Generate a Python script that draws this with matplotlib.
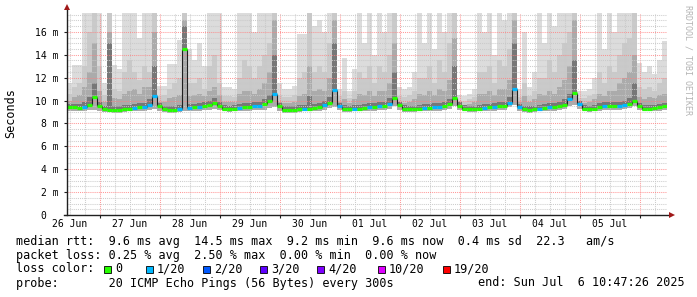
import matplotlib
matplotlib.use('Agg')
import matplotlib.pyplot as plt
from matplotlib.patches import Rectangle

MONO = 'DejaVu Sans Mono'
W, H = 697, 297

# 10 days of 2 hour steps, starting Jun 26 10:47
start_h = 10 + 47 / 60
step_h = 2
days = ['26 Jun', '27 Jun', '28 Jun', '29 Jun', '30 Jun',
        '01 Jul', '02 Jul', '03 Jul', '04 Jul', '05 Jul']

# median rtt (ms) per step
med = [9.40, 9.40, 9.35, 9.45, 9.65, 10.3, 9.55, 9.25, 9.20, 9.20, 9.20, 9.25,
       9.30, 9.35, 9.40, 9.45, 9.65, 10.4, 9.50, 9.25, 9.20, 9.20, 9.30, 14.5,
       9.35, 9.40, 9.45, 9.50, 9.60, 9.75, 9.55, 9.30, 9.25, 9.30, 9.35, 9.40,
       9.45, 9.50, 9.55, 9.70, 10.0, 10.6, 9.50, 9.20, 9.20, 9.20, 9.25, 9.30,
       9.30, 9.35, 9.45, 9.60, 9.80, 10.9, 9.50, 9.30, 9.25, 9.30, 9.30, 9.35,
       9.40, 9.45, 9.50, 9.55, 9.70, 10.2, 9.60, 9.30, 9.25, 9.25, 9.30, 9.35,
       9.35, 9.40, 9.45, 9.55, 9.70, 10.2, 9.55, 9.30, 9.25, 9.25, 9.30, 9.35,
       9.40, 9.45, 9.50, 9.55, 9.80, 11.0, 9.40, 9.25, 9.20, 9.25, 9.30, 9.35,
       9.40, 9.45, 9.50, 9.65, 10.1, 10.7, 9.70, 9.30, 9.25, 9.30, 9.40, 9.55,
       9.50, 9.50, 9.55, 9.60, 9.70, 10.0, 9.50, 9.30, 9.30, 9.35, 9.40, 9.50]

# lost pings (of 20) per step
loss = [0, 0, 0, 1, 0, 0, 0, 0, 0, 0, 0, 0,
        0, 1, 0, 1, 1, 1, 0, 0, 0, 0, 1, 0,
        1, 0, 1, 0, 0, 0, 0, 0, 0, 0, 1, 0,
        0, 1, 1, 0, 0, 1, 0, 0, 0, 0, 0, 1,
        0, 0, 0, 1, 0, 1, 1, 0, 0, 1, 0, 0,
        1, 0, 1, 0, 1, 0, 0, 0, 0, 0, 0, 1,
        0, 1, 1, 0, 0, 0, 0, 0, 0, 0, 0, 1,
        0, 1, 0, 0, 1, 1, 1, 0, 0, 0, 1, 0,
        1, 0, 0, 0, 1, 0, 1, 0, 0, 0, 0, 1,
        0, 0, 1, 1, 0, 0, 0, 0, 0, 0, 0, 0]

# smoke: sorted ping ranks per step (ms)
top = [11.5, 13.1, 13.1, 18, 18, 18, 18, 11.5, 18, 13.1, 12.8, 18,
       18, 18, 15.5, 18, 18, 18, 11.3, 11.3, 13.2, 13.2, 15.3, 18,
       14.5, 13.5, 15.0, 13.0, 18, 18, 18, 11.2, 11.2, 11.0, 18, 18,
       18, 16, 18, 18, 18, 18, 11.5, 11.0, 11.0, 11.3, 15.8, 15.8,
       18, 16.5, 17, 16, 18, 18, 11.0, 13.7, 10.8, 12.8, 18, 15,
       18, 14, 18, 16, 18, 18, 11.2, 11.0, 11.2, 12.5, 18, 15,
       18, 14.5, 18, 16, 18, 18, 10.5, 10.4, 10.6, 11.0, 18, 16,
       18, 14, 18, 17, 18, 18, 11.0, 16, 11.2, 12.5, 18, 15,
       18, 16.5, 18, 18, 18, 18, 10.8, 10.8, 11.0, 12.0, 18, 14.5,
       18, 16, 18, 18, 18, 18, 13.3, 12.5, 13.0, 12.3, 13.5, 15.2]
u2 = [10.6, 11.2, 11.5, 13.0, 16.0, 18, 13.0, 10.5, 18, 11.0, 10.8, 12.5,
      13.5, 12.5, 11.8, 13.0, 12.5, 18, 10.4, 10.5, 11.0, 11.5, 12.0, 18,
      11.5, 11.5, 12.0, 11.0, 13.0, 14.0, 11.5, 10.4, 10.4, 10.3, 12.0, 13.5,
      13.0, 12.0, 13.0, 14.0, 15.0, 18, 10.5, 10.3, 10.3, 10.5, 12.0, 12.5,
      18, 12.5, 13.0, 12.5, 15.0, 18, 10.4, 10.8, 10.2, 10.8, 12.5, 12.0,
      13.0, 11.5, 13.0, 12.5, 14.0, 18, 10.4, 10.3, 10.5, 10.8, 12.0, 12.0,
      13.0, 11.5, 13.5, 12.5, 15.0, 18, 10.0, 9.9, 10.1, 10.3, 12.5, 12.5,
      13.0, 11.5, 13.5, 13.0, 14.5, 18, 10.3, 11.5, 10.4, 10.8, 12.0, 12.0,
      13.5, 12.5, 14.0, 15.0, 16.0, 18, 10.2, 10.2, 10.4, 10.6, 12.5, 11.5,
      13.0, 12.5, 14.0, 15.0, 15.5, 18, 11.2, 11.0, 11.2, 10.8, 11.5, 12.0]
u4 = [10.0, 10.3, 10.5, 11.2, 12.5, 15.0, 10.8, 9.9, 16.0, 10.2, 10.1, 10.6,
      10.8, 11.0, 10.6, 11.2, 11.2, 16.0, 9.9, 9.9, 10.2, 10.3, 10.5, 17.0,
      10.4, 10.5, 10.6, 10.4, 10.8, 11.2, 10.5, 9.9, 9.9, 9.9, 10.6, 10.8,
      10.8, 10.6, 11.0, 11.5, 12.5, 17.0, 9.9, 9.8, 9.8, 9.9, 10.4, 10.6,
      13.0, 10.8, 11.0, 10.8, 12.0, 17.0, 9.9, 10.1, 9.8, 10.1, 10.6, 10.5,
      10.8, 10.4, 10.8, 10.8, 11.5, 15.0, 9.9, 9.8, 9.9, 10.1, 10.6, 10.5,
      10.8, 10.5, 11.0, 10.8, 11.8, 15.5, 9.7, 9.6, 9.7, 9.9, 10.6, 10.6,
      10.8, 10.5, 11.0, 11.0, 11.8, 17.0, 9.9, 10.4, 9.9, 10.1, 10.6, 10.5,
      10.8, 10.6, 11.2, 11.8, 13.0, 17.0, 9.8, 9.8, 9.9, 10.1, 10.6, 10.4,
      10.8, 10.8, 11.5, 12.0, 12.5, 14.0, 10.3, 10.1, 10.3, 10.2, 10.5, 10.6]
u7 = [9.70, 9.70, 9.70, 9.90, 10.3, 11.5, 9.90, 9.50, 15.0, 9.50, 9.50, 9.60,
      9.60, 9.70, 9.75, 9.80, 10.1, 13.0, 9.80, 9.50, 9.50, 9.50, 9.60, 16.5,
      9.70, 9.70, 9.80, 9.85, 9.95, 10.2, 9.85, 9.60, 9.55, 9.60, 9.70, 9.75,
      9.80, 9.85, 9.90, 10.1, 10.5, 14.0, 9.80, 9.50, 9.50, 9.50, 9.60, 9.65,
      10.4, 9.70, 9.80, 9.95, 10.3, 15.0, 9.80, 9.60, 9.55, 9.60, 9.65, 9.70,
      9.75, 9.80, 9.85, 9.90, 10.2, 12.5, 9.90, 9.60, 9.55, 9.55, 9.60, 9.70,
      9.70, 9.75, 9.80, 9.90, 10.1, 13.0, 9.85, 9.60, 9.55, 9.55, 9.60, 9.70,
      9.70, 9.80, 9.85, 9.90, 10.3, 15.0, 9.70, 9.55, 9.50, 9.55, 9.60, 9.70,
      9.75, 9.80, 9.85, 10.1, 10.6, 13.5, 10.0, 9.60, 9.55, 9.60, 9.75, 9.90,
      9.85, 9.85, 9.90, 10.0, 10.2, 11.5, 9.80, 9.60, 9.60, 9.65, 9.70, 9.80]
low = [9.10, 9.10, 9.05, 9.10, 9.15, 9.20, 9.10, 9.00, 9.00, 8.95, 8.95, 9.00,
       9.05, 9.05, 9.10, 9.10, 9.15, 9.25, 9.10, 9.00, 8.95, 8.95, 9.00, 9.10,
       9.05, 9.10, 9.10, 9.15, 9.20, 9.25, 9.15, 9.05, 9.00, 9.05, 9.05, 9.10,
       9.10, 9.15, 9.15, 9.20, 9.35, 9.40, 9.10, 8.95, 8.95, 8.95, 9.00, 9.05,
       9.05, 9.05, 9.10, 9.20, 9.35, 9.45, 9.15, 9.00, 9.00, 9.05, 9.05, 9.05,
       9.10, 9.10, 9.15, 9.20, 9.30, 9.50, 9.20, 9.00, 9.00, 9.00, 9.05, 9.05,
       9.05, 9.10, 9.10, 9.20, 9.30, 9.50, 9.20, 9.05, 9.00, 9.00, 9.05, 9.05,
       9.10, 9.10, 9.15, 9.20, 9.40, 9.60, 9.10, 9.00, 8.95, 9.00, 9.05, 9.05,
       9.10, 9.10, 9.15, 9.25, 9.50, 9.60, 9.30, 9.05, 9.00, 9.05, 9.10, 9.20,
       9.15, 9.15, 9.20, 9.25, 9.35, 9.50, 9.20, 9.05, 9.05, 9.05, 9.10, 9.15]

loss_cols = {0: '#26ff00', 1: '#00b8ff', 2: '#0059ff', 3: '#5e00ff',
             4: '#7e00ff', 10: '#dd00ff', 19: '#ff0000'}
loss_labels = ['0', '1/20', '2/20', '3/20', '4/20', '10/20', '19/20']

n = len(med)
xs = [start_h + step_h * i for i in range(n + 1)]


def ext(a):
    return list(a) + [a[-1]]


fig = plt.figure(figsize=(W / 100, H / 100), dpi=100)
fig.patch.set_facecolor('white')
ax = fig.add_axes([67 / W, (H - 215) / H, 600 / W, 202 / H])

# smoke bands, lightest first
ax.fill_between(xs, ext(low), ext(top), step='post', color='#dcdcdc', lw=0, zorder=1)
ax.fill_between(xs, ext(low), ext(u2), step='post', color='#cacaca', lw=0, zorder=1)
ax.fill_between(xs, ext(low), ext(u4), step='post', color='#ababab', lw=0, zorder=1)
ax.fill_between(xs, ext(med), ext(u7), step='post', color='#777777', lw=0, zorder=1)

# grid
ymax = 17.65
xmin, xmax = start_h, start_h + step_h * n
for h in range(0, 264, 6):
    if xmin < h < xmax:
        major = h % 24 == 0
        ax.axvline(h, color='#ff8080' if major else '#c8c8c8', lw=0.75,
                   ls=(0, (1, 1)), zorder=2, alpha=0.8 if major else 0.9)
for k in range(0, 36):
    v = k * 0.5
    if 0 < v < ymax:
        major = k % 4 == 0
        ax.axhline(v, color='#ff8080' if major else '#c8c8c8', lw=0.75,
                   ls=(0, (1, 1)), zorder=2, alpha=0.8 if major else 0.9)

# median line, coloured by loss
for i in range(n - 1):
    if abs(med[i + 1] - med[i]) > 0.15:
        ax.plot([xs[i + 1], xs[i + 1]], [med[i], med[i + 1]], color='#202020',
                lw=0.8, zorder=3, solid_capstyle='butt')
for i in range(n):
    ax.plot([xs[i], xs[i + 1]], [med[i], med[i]], color=loss_cols[loss[i]],
            lw=2.3, zorder=4, solid_capstyle='butt')

ax.set_xlim(xmin, xmax)
ax.set_ylim(0, ymax)
for s in ax.spines.values():
    s.set_visible(False)

ax.set_yticks([0, 2, 4, 6, 8, 10, 12, 14, 16])
ax.set_yticklabels(['0  ', '2 m', '4 m', '6 m', '8 m', '10 m', '12 m', '14 m', '16 m'],
                   family=MONO, fontsize=7)
ax.set_xticks([h for h in range(24, 264, 24) if xmin < h < xmax])
ax.set_xticklabels([])
ax.tick_params(axis='both', length=2, width=0.8, color='#202020', pad=4)
for i, d in enumerate(days):
    ax.annotate(d, (24 * i + 12, 0), xycoords=('data', 'axes fraction'),
                xytext=(0, -6.5), textcoords='offset points', ha='center',
                va='center', family=MONO, fontsize=7)

# axes with arrows
ax.plot([0, 0], [0, 1 + 4 / 202], transform=ax.transAxes, color='#202020',
        lw=1, clip_on=False, zorder=5)
ax.plot([-3 / 600, 1 + 3 / 600], [0, 0], transform=ax.transAxes, color='#202020',
        lw=1, clip_on=False, zorder=5)
ax.plot([0], [1 + 6 / 202], marker='^', ms=4, color='#a01818', transform=ax.transAxes,
        clip_on=False, zorder=6, mew=0)
ax.plot([1 + 5 / 600], [0], marker='>', ms=4, color='#a01818', transform=ax.transAxes,
        clip_on=False, zorder=6, mew=0)


def ftext(x, y, s, **kw):
    kw.setdefault('family', MONO)
    kw.setdefault('fontsize', 8.5)
    kw.setdefault('va', 'center')
    fig.text(x / W, 1 - y / H, s, **kw)


ftext(11, 113, 'Seconds', rotation=90, ha='center')
ftext(688, 60, 'RRDTOOL / TOBI OETIKER', rotation=270, ha='center',
      fontsize=6, color='#b4b4b4')

ftext(16, 241, 'median rtt:  9.6 ms avg  14.5 ms max  9.2 ms min  9.6 ms now  0.4 ms sd  22.3   am/s')
ftext(16, 255, 'packet loss: 0.25 % avg  2.50 % max  0.00 % min  0.00 % now')
ftext(16, 269, 'loss color:')
box_x = [104, 146, 203, 260, 317, 378, 443]
for bx, key, lab in zip(box_x, loss_cols, loss_labels):
    fig.add_artist(Rectangle((bx / W, 1 - 272.5 / H), 7 / W, 7 / H,
                             facecolor=loss_cols[key], edgecolor='black', lw=0.6,
                             transform=fig.transFigure))
    ftext(bx + 11, 269, lab)
ftext(16, 283, 'probe:       20 ICMP Echo Pings (56 Bytes) every 300s')
ftext(478, 283, 'end: Sun Jul  6 10:47:26 2025')

fig.savefig('out.png', dpi=100, facecolor='white')
